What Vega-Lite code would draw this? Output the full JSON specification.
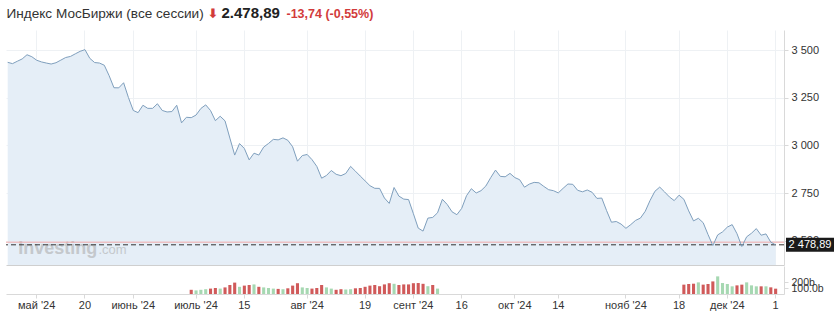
{
  "$schema": "https://vega.github.io/schema/vega-lite/v6.json",
  "background": "white",
  "padding": {"left": 5, "top": 5, "right": 5, "bottom": 5},
  "datasets": {
    "px": [
      {"date":"2024-04-24","close":3435.5},{"date":"2024-04-25","close":3428.7},{"date":"2024-04-26","close":3441.3},{"date":"2024-04-27","close":3453.3},{"date":"2024-04-29","close":3475.3},{"date":"2024-04-30","close":3464.9},
      {"date":"2024-05-02","close":3446.5},{"date":"2024-05-03","close":3437.6},{"date":"2024-05-06","close":3431.8},{"date":"2024-05-07","close":3426.6},{"date":"2024-05-08","close":3433.4},{"date":"2024-05-13","close":3447},{"date":"2024-05-14","close":3460.7},{"date":"2024-05-15","close":3466.4},{"date":"2024-05-16","close":3480.1},{"date":"2024-05-17","close":3493.2},{"date":"2024-05-20","close":3502},{"date":"2024-05-21","close":3456.5},{"date":"2024-05-22","close":3434.4},{"date":"2024-05-23","close":3431.8},{"date":"2024-05-24","close":3420.3},{"date":"2024-05-27","close":3365.7},{"date":"2024-05-28","close":3302.3},{"date":"2024-05-29","close":3301.7},{"date":"2024-05-30","close":3328.5},{"date":"2024-05-31","close":3250.9},
      {"date":"2024-06-03","close":3183.2},{"date":"2024-06-04","close":3171.7},{"date":"2024-06-06","close":3210.5},{"date":"2024-06-07","close":3194.2},{"date":"2024-06-10","close":3194.2},{"date":"2024-06-11","close":3218.3},{"date":"2024-06-13","close":3183.2},{"date":"2024-06-14","close":3175.3},{"date":"2024-06-18","close":3177.4},{"date":"2024-06-19","close":3210.5},{"date":"2024-06-21","close":3118.2},{"date":"2024-06-25","close":3147.5},{"date":"2024-06-27","close":3145.4,"vol":70,"dir":"down"},
      {"date":"2024-07-01","close":3159.1,"vol":60,"dir":"up"},{"date":"2024-07-02","close":3193.7,"vol":70,"dir":"up"},{"date":"2024-07-03","close":3212.6,"vol":80,"dir":"up"},{"date":"2024-07-04","close":3182.7,"vol":90,"dir":"down"},{"date":"2024-07-05","close":3129.7,"vol":100,"dir":"down"},{"date":"2024-07-08","close":3152.8,"vol":90,"dir":"up"},{"date":"2024-07-09","close":3128.7,"vol":110,"dir":"down"},{"date":"2024-07-10","close":3038.4,"vol":150,"dir":"down"},{"date":"2024-07-11","close":2949.3,"vol":190,"dir":"down"},{"date":"2024-07-12","close":3009.6,"vol":120,"dir":"up"},{"date":"2024-07-15","close":2983.9,"vol":140,"dir":"down"},{"date":"2024-07-16","close":2924.1,"vol":150,"dir":"down"},{"date":"2024-07-17","close":2959.2,"vol":160,"dir":"up"},{"date":"2024-07-18","close":2949.3,"vol":120,"dir":"down"},{"date":"2024-07-19","close":2991.2,"vol":110,"dir":"up"},{"date":"2024-07-22","close":3010.1,"vol":100,"dir":"up"},{"date":"2024-07-23","close":3031.6,"vol":90,"dir":"up"},{"date":"2024-07-24","close":3029,"vol":85,"dir":"down"},{"date":"2024-07-25","close":3039.5,"vol":80,"dir":"up"},{"date":"2024-07-26","close":3026.9,"vol":95,"dir":"down"},{"date":"2024-07-29","close":2992.8,"vol":140,"dir":"down"},{"date":"2024-07-30","close":2917.3,"vol":180,"dir":"down"},{"date":"2024-07-31","close":2946.7,"vol":110,"dir":"up"},
      {"date":"2024-08-01","close":2952.4,"vol":100,"dir":"up"},{"date":"2024-08-02","close":2925.7,"vol":90,"dir":"down"},{"date":"2024-08-05","close":2890,"vol":100,"dir":"down"},{"date":"2024-08-06","close":2828.1,"vol":150,"dir":"down"},{"date":"2024-08-07","close":2842.3,"vol":110,"dir":"up"},{"date":"2024-08-08","close":2868.5,"vol":90,"dir":"up"},{"date":"2024-08-09","close":2848.6,"vol":70,"dir":"down"},{"date":"2024-08-12","close":2841.2,"vol":80,"dir":"down"},{"date":"2024-08-13","close":2852.8,"vol":75,"dir":"up"},{"date":"2024-08-14","close":2890,"vol":80,"dir":"up"},{"date":"2024-08-15","close":2864.8,"vol":95,"dir":"down"},{"date":"2024-08-16","close":2839.1,"vol":100,"dir":"down"},{"date":"2024-08-19","close":2814,"vol":120,"dir":"down"},{"date":"2024-08-20","close":2788.8,"vol":140,"dir":"down"},{"date":"2024-08-21","close":2775.1,"vol":150,"dir":"down"},{"date":"2024-08-22","close":2774.6,"vol":130,"dir":"down"},{"date":"2024-08-23","close":2724.3,"vol":160,"dir":"down"},{"date":"2024-08-26","close":2695.9,"vol":180,"dir":"down"},{"date":"2024-08-27","close":2779.3,"vol":170,"dir":"up"},{"date":"2024-08-28","close":2734.2,"vol":150,"dir":"down"},{"date":"2024-08-29","close":2718.5,"vol":160,"dir":"down"},{"date":"2024-08-30","close":2716,"vol":160,"dir":"down"},
      {"date":"2024-09-02","close":2641.9,"vol":180,"dir":"down"},{"date":"2024-09-03","close":2566.4,"vol":183,"dir":"down"},{"date":"2024-09-04","close":2550.7,"vol":170,"dir":"down"},{"date":"2024-09-05","close":2618.8,"vol":130,"dir":"up"},{"date":"2024-09-06","close":2622.5,"vol":150,"dir":"down"},{"date":"2024-09-09","close":2646.6,"vol":90,"dir":"up"},{"date":"2024-09-10","close":2717.5},{"date":"2024-09-11","close":2690.2},{"date":"2024-09-12","close":2651.9},{"date":"2024-09-13","close":2636.7},{"date":"2024-09-16","close":2669.7},{"date":"2024-09-17","close":2736.3},{"date":"2024-09-18","close":2773},{"date":"2024-09-19","close":2750.5},{"date":"2024-09-20","close":2762.6},{"date":"2024-09-23","close":2787.2},{"date":"2024-09-24","close":2830.7},{"date":"2024-09-25","close":2870.6},{"date":"2024-09-26","close":2837.6},{"date":"2024-09-27","close":2835.5},{"date":"2024-09-30","close":2853.3},
      {"date":"2024-10-01","close":2831.3},{"date":"2024-10-02","close":2820.2},{"date":"2024-10-03","close":2780.9},{"date":"2024-10-04","close":2797.2},{"date":"2024-10-07","close":2806.1},{"date":"2024-10-08","close":2804},{"date":"2024-10-09","close":2785.1},{"date":"2024-10-10","close":2767.8},{"date":"2024-10-11","close":2762.6},{"date":"2024-10-14","close":2751},{"date":"2024-10-15","close":2775.1},{"date":"2024-10-16","close":2797.7},{"date":"2024-10-17","close":2796},{"date":"2024-10-18","close":2764.7},{"date":"2024-10-21","close":2756.8},{"date":"2024-10-22","close":2766.2},{"date":"2024-10-23","close":2754.2},{"date":"2024-10-24","close":2722.2},{"date":"2024-10-25","close":2724},{"date":"2024-10-28","close":2658.2},{"date":"2024-10-29","close":2597.3},{"date":"2024-10-30","close":2601},{"date":"2024-10-31","close":2587.4},
      {"date":"2024-11-01","close":2565.3},{"date":"2024-11-02","close":2584.7},{"date":"2024-11-05","close":2606.8},{"date":"2024-11-06","close":2618.8},{"date":"2024-11-07","close":2654.5},{"date":"2024-11-08","close":2711.2},{"date":"2024-11-11","close":2759.4},{"date":"2024-11-12","close":2781.4},{"date":"2024-11-13","close":2756.3},{"date":"2024-11-14","close":2730},{"date":"2024-11-15","close":2710.6},{"date":"2024-11-18","close":2739},{"date":"2024-11-19","close":2717.5,"vol":156,"dir":"down"},{"date":"2024-11-20","close":2656.6,"vol":167,"dir":"down"},{"date":"2024-11-21","close":2604.2,"vol":172,"dir":"down"},{"date":"2024-11-22","close":2617.8,"vol":194,"dir":"up"},{"date":"2024-11-25","close":2594.7,"vol":156,"dir":"down"},{"date":"2024-11-26","close":2532.8,"vol":167,"dir":"down"},{"date":"2024-11-27","close":2475,"vol":210,"dir":"down"},{"date":"2024-11-28","close":2530.7,"vol":294,"dir":"up"},{"date":"2024-11-29","close":2546.5,"vol":183,"dir":"up"},
      {"date":"2024-12-02","close":2571.6,"vol":167,"dir":"up"},{"date":"2024-12-03","close":2584.7,"vol":128,"dir":"up"},{"date":"2024-12-04","close":2537,"vol":144,"dir":"down"},{"date":"2024-12-05","close":2470,"vol":156,"dir":"down"},{"date":"2024-12-06","close":2520.8,"vol":194,"dir":"up"},{"date":"2024-12-09","close":2539.6,"vol":144,"dir":"up"},{"date":"2024-12-10","close":2563.8,"vol":128,"dir":"up"},{"date":"2024-12-11","close":2529.2,"vol":128,"dir":"down"},{"date":"2024-12-12","close":2536,"vol":128,"dir":"up"},{"date":"2024-12-13","close":2492.63,"vol":111,"dir":"down"},{"date":"2024-12-16","close":2478.89,"vol":89,"dir":"down"}
    ],
    "levels": [
      {"kind": "prev", "value": 2492.63, "label": "2 492,63"},
      {"kind": "last", "value": 2478.89, "label": "2 478,89"}
    ],
    "brand": [
      {"date": "2024-04-26", "value": 2432, "text": "Investing", "part": "name"},
      {"date": "2024-05-23", "value": 2432, "text": ".com", "part": "tld"}
    ]
  },
  "data": {"name": "px"},
  "spacing": 1,
  "resolve": {"scale": {"x": "shared"}},
  "vconcat": [
    {
      "width": 778,
      "height": 235,
      "resolve": {"axis": {"x": "independent", "y": "independent"}},
      "layer": [
        {
          "mark": {"type": "area", "color": "#e5eef7"},
          "encoding": {
            "x": {"field": "date", "type": "ordinal", "sort": "ascending",
              "scale": {"type": "band", "paddingInner": 0.36, "paddingOuter": 0.72, "align": 0.02},
              "axis": {"orient": "bottom", "values": ["2024-05-02","2024-05-20","2024-06-03","2024-07-01","2024-07-15","2024-08-01","2024-08-19","2024-09-02","2024-09-16","2024-10-01","2024-10-14","2024-11-01","2024-11-18","2024-12-02","2024-12-16"],
                "labels": false, "ticks": false, "grid": true, "gridColor": "#eef1f4", "domain": true, "domainColor": "#cfcfcf",
                "title": "Индекс МосБиржи (все сессии)", "titleX": 0, "titleY": -248, "titleAlign": "left", "titleBaseline": "alphabetic", "titleAnchor": null,
                "titleFont": "Liberation Sans", "titleFontSize": 13.6, "titleFontWeight": "normal", "titleColor": "#333333"}},
            "y": {"field": "close", "type": "quantitative",
              "scale": {"domain": [2373, 3605], "zero": false, "nice": false},
              "axis": {"orient": "right", "values": [2500, 2750, 3000, 3250, 3500], "labelExpr": "replace(format(datum.value, ','), ',', ' ')",
                "grid": true, "gridColor": "#eef1f4", "domainColor": "#d9d9d9", "tickColor": "#d9d9d9", "tickSize": 4, "labelPadding": 3,
                "labelFont": "Liberation Sans", "labelFontSize": 11, "labelColor": "#333333",
                "title": "⬇", "titleAngle": 0, "titleX": -577, "titleY": -13, "titleAlign": "left", "titleBaseline": "alphabetic",
                "titleFont": "DejaVu Sans", "titleFontSize": 13, "titleFontWeight": "bold", "titleColor": "#d23b3b"}},
            "y2": {"datum": 2373}
          }
        },
        {
          "data": {"name": "brand"},
          "transform": [{"filter": "datum.part == 'name'"}],
          "mark": {"type": "text", "align": "left", "baseline": "alphabetic", "font": "Liberation Sans", "fontWeight": "bold", "fontSize": 18, "color": "#c4c8cc", "dx": 1},
          "encoding": {
            "x": {"field": "date", "type": "ordinal", "axis": null},
            "y": {"field": "value", "type": "quantitative", "axis": null},
            "text": {"field": "text"}
          }
        },
        {
          "data": {"name": "brand"},
          "transform": [{"filter": "datum.part == 'tld'"}],
          "mark": {"type": "text", "align": "left", "baseline": "alphabetic", "font": "Liberation Sans", "fontSize": 13, "color": "#c4c8cc", "dx": -1},
          "encoding": {
            "x": {"field": "date", "type": "ordinal", "axis": null},
            "y": {"field": "value", "type": "quantitative", "axis": null},
            "text": {"field": "text"}
          }
        },
        {
          "data": {"name": "levels"},
          "transform": [{"filter": "datum.kind == 'prev'"}],
          "mark": {"type": "rule", "color": "#f1a9a9", "strokeWidth": 1},
          "encoding": {"y": {"field": "value", "type": "quantitative", "axis": null}}
        },
        {
          "data": {"name": "levels"},
          "transform": [{"filter": "datum.kind == 'last'"}],
          "mark": {"type": "rule", "color": "#333333", "strokeWidth": 1, "strokeDash": [5, 3]},
          "encoding": {"y": {"field": "value", "type": "quantitative", "axis": null}}
        },
        {
          "mark": {"type": "line", "color": "#7f9fbd", "strokeWidth": 1},
          "encoding": {
            "x": {"field": "date", "type": "ordinal",
              "axis": {"orient": "top", "labels": false, "ticks": false, "grid": false, "domain": false,
                "title": "2.478,89", "titleX": 215, "titleY": -13, "titleAlign": "left", "titleBaseline": "alphabetic", "titleAnchor": null,
                "titleFont": "Liberation Sans", "titleFontSize": 15, "titleFontWeight": "bold", "titleColor": "#222222"}},
            "y": {"field": "close", "type": "quantitative",
              "axis": {"orient": "left", "labels": false, "ticks": false, "grid": false, "domain": false,
                "title": "-13,74  (-0,55%)", "titleAngle": 0, "titleX": 280, "titleY": -13, "titleAlign": "left", "titleBaseline": "alphabetic",
                "titleFont": "Liberation Sans", "titleFontSize": 12.5, "titleFontWeight": "bold", "titleColor": "#d23b3b"}}
          }
        },
        {
          "data": {"name": "levels"},
          "transform": [{"filter": "datum.kind == 'last'"}],
          "mark": {"type": "rect", "color": "#1a1a1a", "x": {"expr": "width + 2"}, "x2": {"expr": "width + 50"}, "yOffset": -7, "y2Offset": 7},
          "encoding": {"y": {"field": "value", "type": "quantitative", "axis": null}, "y2": {"field": "value"}}
        },
        {
          "data": {"name": "levels"},
          "transform": [{"filter": "datum.kind == 'last'"}],
          "mark": {"type": "text", "color": "#ffffff", "x": {"expr": "width + 26"}, "align": "center", "baseline": "middle", "font": "Liberation Sans", "fontSize": 11},
          "encoding": {"y": {"field": "value", "type": "quantitative", "axis": null}, "text": {"field": "label"}}
        }
      ]
    },
    {
      "width": 778,
      "height": 28,
      "mark": {"type": "bar"},
      "encoding": {
        "x": {"field": "date", "type": "ordinal", "sort": "ascending",
          "scale": {"type": "band", "paddingInner": 0.36, "paddingOuter": 0.72, "align": 0.02},
          "axis": {"values": ["2024-05-02","2024-05-20","2024-06-03","2024-07-01","2024-07-15","2024-08-01","2024-08-19","2024-09-02","2024-09-16","2024-10-01","2024-10-14","2024-11-01","2024-11-18","2024-12-02","2024-12-16"],
            "labelExpr": "[\"май '24\",\"20\",\"июнь '24\",\"июль '24\",\"15\",\"авг '24\",\"19\",\"сент '24\",\"16\",\"окт '24\",\"14\",\"нояб '24\",\"18\",\"дек '24\",\"1\"][indexof([\"2024-05-02\",\"2024-05-20\",\"2024-06-03\",\"2024-07-01\",\"2024-07-15\",\"2024-08-01\",\"2024-08-19\",\"2024-09-02\",\"2024-09-16\",\"2024-10-01\",\"2024-10-14\",\"2024-11-01\",\"2024-11-18\",\"2024-12-02\",\"2024-12-16\"], datum.value)]",
            "labelAngle": 0, "labelOverlap": false, "title": null, "grid": false, "domainColor": "#d9d9d9", "tickColor": "#d9d9d9", "tickSize": 4, "labelPadding": 1,
            "labelFont": "Liberation Sans", "labelFontSize": 11, "labelColor": "#333333"}},
        "y": {"field": "vol", "type": "quantitative",
          "scale": {"domain": [0, 467], "nice": false},
          "axis": {"orient": "right", "values": [100, 200], "labelExpr": "datum.value == 100 ? '100.0b' : '200b'", "labelOverlap": false,
            "title": null, "grid": false, "domainColor": "#d9d9d9", "tickColor": "#d9d9d9", "tickSize": 4, "labelPadding": 3,
            "labelFont": "Liberation Sans", "labelFontSize": 10.5, "labelColor": "#333333"}},
        "color": {"field": "dir", "type": "nominal", "scale": {"domain": ["down", "up"], "range": ["#d05a5a", "#a6d8b2"]}, "legend": null}
      }
    }
  ],
  "config": {
    "view": {"stroke": null},
    "font": "Liberation Sans"
  }
}
